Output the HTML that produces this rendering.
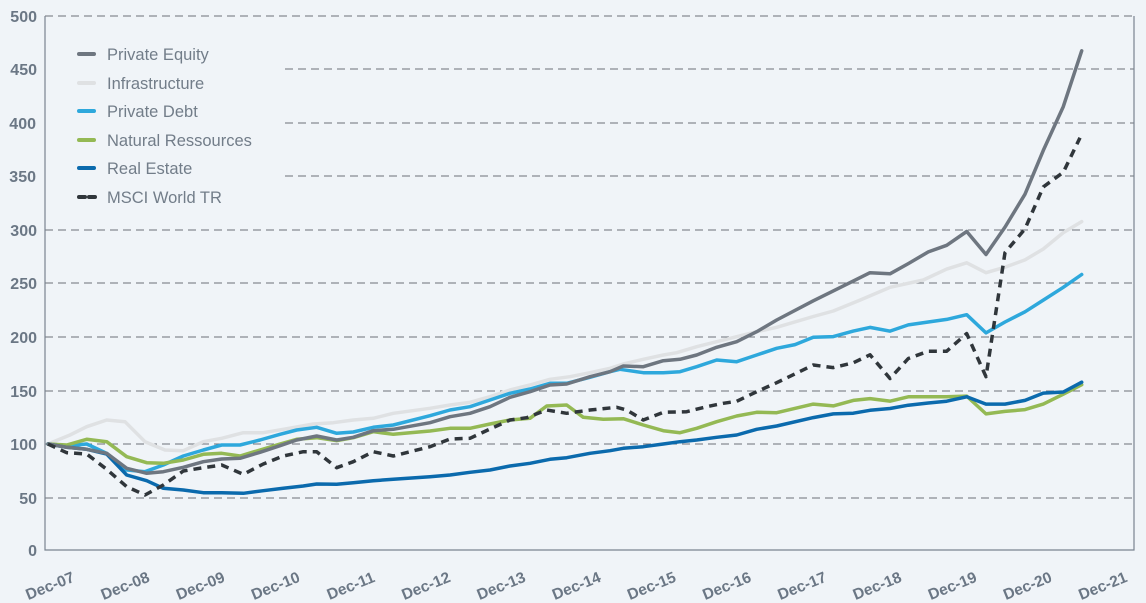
<!DOCTYPE html>
<html><head><meta charset="utf-8"><style>
html,body{margin:0;padding:0;background:#f0f4f8;}
svg{display:block;font-family:"Liberation Sans",sans-serif;}
</style></head><body>
<svg id="c" width="1146" height="603" viewBox="0 0 1146 603">
<rect width="1146" height="603" fill="#f0f4f8"/>
<g stroke="#6b7078" stroke-width="1" stroke-dasharray="8,5">
<line x1="45" y1="16" x2="1134" y2="16"/>
<line x1="285" y1="69" x2="1134" y2="69"/>
<line x1="285" y1="123" x2="1134" y2="123"/>
<line x1="285" y1="176" x2="1134" y2="176"/>
<line x1="45" y1="230" x2="1134" y2="230"/>
<line x1="45" y1="283" x2="1134" y2="283"/>
<line x1="45" y1="337" x2="1134" y2="337"/>
<line x1="45" y1="391" x2="1134" y2="391"/>
<line x1="45" y1="444" x2="1134" y2="444"/>
<line x1="45" y1="498" x2="1134" y2="498"/>
</g>
<path d="M45 16 V550 H1134 V16" fill="none" stroke="#7a8490" stroke-width="1.2"/>
<g fill="#6b7785" font-weight="bold" font-size="16" text-anchor="end">
<text x="37" y="22">500</text><text x="37" y="75">450</text><text x="36" y="129">400</text>
<text x="36" y="182">350</text><text x="37" y="236">300</text><text x="37" y="289">250</text>
<text x="37" y="343">200</text><text x="37" y="397">150</text><text x="37" y="450">100</text>
<text x="37" y="504">50</text><text x="37" y="556">0</text>
</g>
<g id="xl" fill="#6b7785" font-weight="bold" font-size="15.5" text-anchor="middle"></g>
<g id="series" fill="none" stroke-linejoin="round" stroke-linecap="round"></g>
<g font-size="16.5" fill="#727d89">
<line x1="79" y1="54" x2="94" y2="54" stroke="#6e7680" stroke-width="4" stroke-linecap="round"/><text x="107" y="60">Private Equity</text>
<line x1="79" y1="83" x2="94" y2="83" stroke="#dfe1e3" stroke-width="4" stroke-linecap="round"/><text x="107" y="89">Infrastructure</text>
<line x1="79" y1="111" x2="94" y2="111" stroke="#2ea8dc" stroke-width="4" stroke-linecap="round"/><text x="107" y="117">Private Debt</text>
<line x1="79" y1="140" x2="94" y2="140" stroke="#94b954" stroke-width="4" stroke-linecap="round"/><text x="107" y="146">Natural Ressources</text>
<line x1="79" y1="168" x2="94" y2="168" stroke="#0b6aad" stroke-width="4" stroke-linecap="round"/><text x="107" y="174">Real Estate</text>
<line x1="79" y1="197" x2="85" y2="197" stroke="#30363b" stroke-width="4" stroke-linecap="round"/><line x1="89" y1="197" x2="95" y2="197" stroke="#30363b" stroke-width="4" stroke-linecap="round"/><text x="107" y="203">MSCI World TR</text>
</g>
</svg>
<script>
var NS="http://www.w3.org/2000/svg";
var xl=document.getElementById("xl");
var labs=["Dec-07","Dec-08","Dec-09","Dec-10","Dec-11","Dec-12","Dec-13","Dec-14","Dec-15","Dec-16","Dec-17","Dec-18","Dec-19","Dec-20","Dec-21"];
labs.forEach(function(l,i){var t=document.createElementNS(NS,"text");var cx=50+75.2*i,cy=591;t.setAttribute("x",cx);t.setAttribute("y",cy);t.setAttribute("transform","rotate(-22 "+cx+" "+(cy-5)+")");t.textContent=l;xl.appendChild(t);});
function z4(a){return a.filter(function(p){return p[0]<=1110}).map(function(p){return [40+p[0]/3,240+p[1]/3]});}
function z5(a){return a.filter(function(p){return p[0]>0&&p[0]<=1110}).map(function(p){return [410+p[0]/3,240+p[1]/3]});}
function z3(a){return a.filter(function(p){return p[0]>0}).map(function(p){return [780+p[0]/3,30+p[1]/2.74]});}
var S={
inf:{c:"#dfe1e3",a:[[25,610],[90,585],[140,560],[200,540],[255,545],[315,605],[375,630],[430,632],[490,605],[545,595],[610,578],[670,578],[730,568],[820,552],[880,548],[940,540],[1000,535],[1060,520]],
b:[[0,515],[60,505],[120,495],[180,487],[240,470],[300,450],[360,435],[420,418],[480,410],[540,398],[600,385],[640,372],[700,358],[760,345],[800,338],[860,320],[920,305],[980,290],[1040,275],[1100,262]],
d:[[0,815],[100,785],[160,770],[240,740],[330,705],[430,685],[500,655],[560,638],[618,665],[675,650],[735,630],[790,600],[850,555],[905,525]]},
pd:{c:"#2ea8dc",a:[[25,610],[80,618],[140,612],[200,640],[260,690],[315,695],[370,675],[430,648],[490,630],[545,615],[600,615],[660,600],[720,583],[770,570],[830,562],[890,580],[940,576],[1000,562],[1060,555]],
b:[[0,545],[60,527],[120,510],[180,500],[240,480],[300,460],[360,447],[420,430],[470,430],[540,412],[600,395],[630,388],[700,398],[760,398],[810,395],[860,380],[920,360],[980,365],[1040,345],[1100,325]],
d:[[0,870],[45,862],[100,842],[160,840],[220,825],[270,815],[330,825],[385,808],[445,800],[500,793],[560,780],[618,830],[675,800],[735,772],[790,740],[850,705],[905,670]]},
nr:{c:"#94b954",a:[[25,610],[80,615],[140,598],[200,605],[260,650],[320,668],[370,670],[430,660],[490,643],[545,640],[600,648],[660,630],[720,612],[770,598],[830,593],[890,602],[940,593],[1000,575],[1060,583]],
b:[[0,580],[60,573],[120,565],[180,565],[240,552],[300,540],[360,535],[410,498],[470,495],[520,532],[580,538],[640,536],[700,555],[760,572],[810,578],[860,565],[920,545],[980,528],[1040,517],[1100,518]],
d:[[0,1045],[100,1025],[160,1030],[220,1015],[270,1010],[330,1017],[385,1005],[445,1005],[500,1005],[560,1003],[618,1052],[675,1045],[735,1040],[790,1025],[850,998],[905,972]]},
re:{c:"#0b6aad",a:[[25,610],[80,622],[140,628],[200,642],[260,705],[320,722],[370,745],[430,750],[490,758],[545,758],[610,760],[670,752],[730,745],[790,738],[830,732],[890,733],[940,728],[1000,722],[1060,718]],
b:[[0,715],[60,710],[120,705],[180,697],[240,690],[300,678],[360,670],[420,658],[470,653],[540,640],[600,632],[640,625],[700,620],[760,612],[810,605],[860,600],[920,592],[980,585],[1040,568],[1100,558]],
d:[[0,1080],[100,1062],[160,1052],[220,1050],[270,1042],[330,1037],[385,1028],[445,1022],[500,1017],[560,1005],[618,1025],[675,1025],[735,1015],[790,995],[850,992],[905,965]]},
pe:{c:"#6e7680",a:[[25,610],[80,622],[140,628],[200,640],[260,685],[320,700],[370,695],[430,682],[490,665],[545,657],[600,655],[660,637],[720,617],[770,600],[830,588],[890,600],[940,592],[1000,572],[1060,568]],
b:[[0,562],[60,548],[120,530],[180,520],[240,500],[300,472],[360,455],[420,435],[470,432],[540,410],[600,395],[640,378],[700,380],[760,362],[810,358],[860,345],[920,322],[980,305],[1040,275],[1100,240]],
d:[[0,795],[100,742],[160,715],[270,665],[330,668],[385,640],[445,608],[500,590],[560,552],[618,615],[675,540],[735,450],[790,330],[850,210],[905,57]]},
ms:{c:"#30363b",dash:true,a:[[25,610],[80,638],[140,642],[200,688],[260,740],[315,765],[370,735],[430,693],[490,683],[545,675],[610,703],[670,672],[730,648],[790,635],[830,635],[890,683],[940,665],[1000,635],[1060,648]],
b:[[0,630],[60,620],[120,597],[180,595],[240,567],[300,540],[350,533],[410,510],[470,520],[540,510],[620,502],[650,510],[700,540],[760,517],[830,515],[890,500],[940,490],[980,484],[1040,455],[1100,428]],
d:[[0,965],[100,918],[160,925],[220,912],[270,890],[330,955],[385,900],[445,880],[500,880],[560,832],[618,950],[675,610],[735,545],[790,430],[850,390],[900,295]]}
};
var g=document.getElementById("series");
["inf","pd","nr","re","pe","ms"].forEach(function(k){var s=S[k];var pts=[[48,444]].concat(z4(s.a).slice(1),z5(s.b),z3(s.d));
var p=document.createElementNS(NS,"polyline");p.setAttribute("points",pts.map(function(q){return q[0].toFixed(1)+","+q[1].toFixed(1)}).join(" "));
p.setAttribute("stroke",s.c);p.setAttribute("stroke-width","3.5");if(s.dash){p.setAttribute("stroke-dasharray","8,6");p.setAttribute("stroke-linecap","butt");}g.appendChild(p);});
</script>
</body></html>
